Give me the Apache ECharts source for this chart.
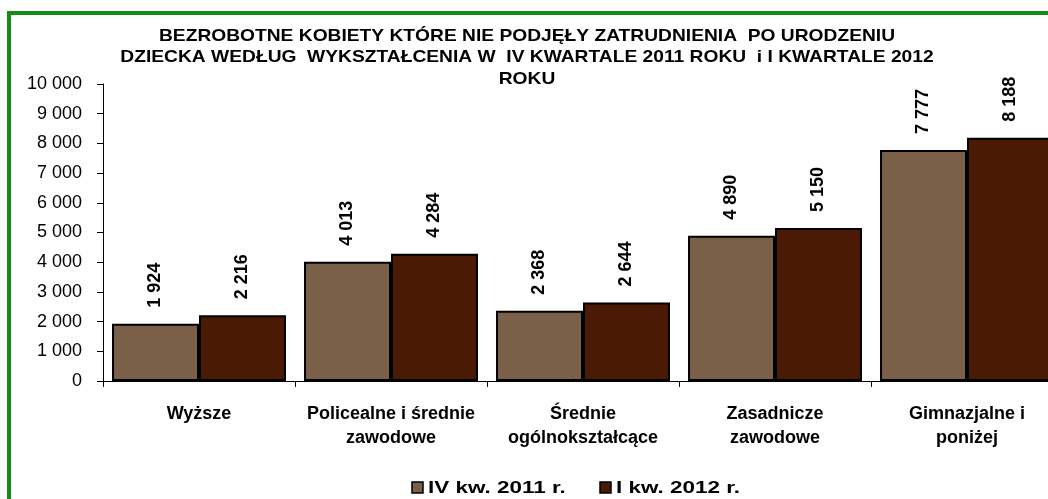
<!DOCTYPE html>
<html>
<head>
<meta charset="utf-8">
<script src="https://cdn.jsdelivr.net/npm/echarts@6/dist/echarts.min.js"></script>
<style>
  html, body { margin: 0; padding: 0; background: #fff; }
  #chart { width: 1048px; height: 499px; }
</style>
</head>
<body>
<div id="chart"></div>
<script>
// Education levels (x categories)
const categories = [
  'Wyższe',
  'Policealne i średnie\nzawodowe',
  'Średnie\nogólnokształcące',
  'Zasadnicze\nzawodowe',
  'Gimnazjalne i\nponiżej'
];
// Series names
const seriesNames = ['IV kw. 2011 r.', 'I kw. 2012 r.'];
// Unemployed women per education level
const q4_2011 = [1924, 4013, 2368, 4890, 7777];
const q1_2012 = [2216, 4284, 2644, 5150, 8188];
// Title lines
const titleLines = [
  'BEZROBOTNE KOBIETY KTÓRE NIE PODJĘŁY ZATRUDNIENIA  PO URODZENIU',
  'DZIECKA WEDŁUG  WYKSZTAŁCENIA W  IV KWARTALE 2011 ROKU  i I KWARTALE 2012',
  'ROKU'
];

const colors = ['#7a6049', '#4a1a04'];
const FONT = 'Liberation Sans, Arial, sans-serif';

// Thousands separated by a space
function fmt(v) {
  return String(v).replace(/\B(?=(\d{3})+(?!\d))/g, ' ');
}

const chart = echarts.init(document.getElementById('chart'), null, { renderer: 'canvas' });

function barSeries(name, data, color) {
  return {
    name: name,
    type: 'bar',
    data: data,
    barGap: '0%',
    barCategoryGap: '9.4%',
    itemStyle: { color: color, borderColor: '#000', borderWidth: 2 },
    label: {
      show: true,
      position: 'top',
      rotate: 90,
      align: 'left',
      verticalAlign: 'middle',
      distance: 16,
      formatter: p => fmt(p.value),
      fontFamily: FONT,
      fontWeight: 'bold',
      fontSize: 18,
      color: '#000'
    }
  };
}

// Frame, wide title lines and legend keys
const graphics = [{
  type: 'rect',
  shape: { x: 9, y: 13, width: 1200, height: 700 },
  style: { fill: 'none', stroke: '#158c15', lineWidth: 4 },
  z: 100
}];
titleLines.forEach((t, i) => {
  graphics.push({
    type: 'text',
    x: 527,
    y: 36 + i * 21.5,
    scaleX: 1.13,
    style: {
      text: t,
      font: 'bold 17px ' + FONT,
      fill: '#000',
      textAlign: 'center',
      textVerticalAlign: 'middle'
    }
  });
});
const legendX = [412, 600];
seriesNames.forEach((name, i) => {
  graphics.push({
    type: 'rect',
    shape: { x: legendX[i], y: 482, width: 11, height: 11 },
    style: { fill: colors[i], stroke: '#000', lineWidth: 1.5 }
  });
  graphics.push({
    type: 'text',
    x: legendX[i] + 16,
    y: 488,
    scaleX: 1.32,
    style: {
      text: name,
      font: 'bold 17px ' + FONT,
      fill: '#000',
      textAlign: 'left',
      textVerticalAlign: 'middle'
    }
  });
});

chart.setOption({
  animation: false,
  backgroundColor: '#fff',
  graphic: graphics,
  grid: {
    left: 103, top: 84, height: 297, width: 960,
    containLabel: false,
    outerBoundsMode: 'none'
  },
  xAxis: {
    type: 'category',
    data: categories,
    axisLine: { lineStyle: { color: '#000', width: 1 } },
    axisTick: { show: true, inside: false, length: 6, lineStyle: { color: '#000' } },
    axisLabel: {
      interval: 0,
      margin: 21,
      fontFamily: FONT,
      fontWeight: 'bold',
      fontSize: 18,
      lineHeight: 24,
      color: '#000'
    }
  },
  yAxis: {
    type: 'value',
    min: 0,
    max: 10000,
    interval: 1000,
    axisLine: { show: true, lineStyle: { color: '#000', width: 1 } },
    axisTick: { show: true, length: 6, lineStyle: { color: '#000' } },
    splitLine: { show: false },
    axisLabel: {
      formatter: v => fmt(v),
      margin: 21,
      fontFamily: FONT,
      fontSize: 18,
      color: '#000'
    }
  },
  series: [
    barSeries(seriesNames[0], q4_2011, colors[0]),
    barSeries(seriesNames[1], q1_2012, colors[1])
  ]
});
</script>
</body>
</html>
